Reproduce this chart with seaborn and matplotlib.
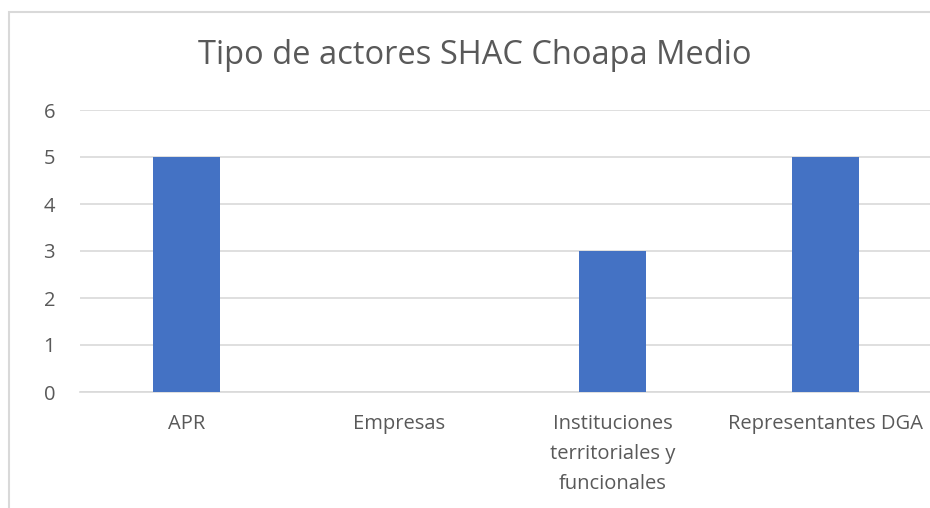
import pandas as pd
import matplotlib.pyplot as plt
import seaborn as sns
from matplotlib.patches import Rectangle

# Chart data
categorias = ['APR', 'Empresas', 'Instituciones\nterritoriales y\nfuncionales', 'Representantes DGA']
valores = [5, 0, 3, 5]
y_ticks = [0, 1, 2, 3, 4, 5, 6]
titulo = 'Tipo de actores SHAC Choapa Medio'

df = pd.DataFrame({'categoria': categorias, 'valor': valores})

sns.set_style('white')
plt.rcParams['font.family'] = ['Open Sans', 'DejaVu Sans']

fig = plt.figure(figsize=(9.3, 5.08), dpi=100)
ax = fig.add_axes([80 / 930, 1 - 392 / 508, 852 / 930, 282 / 508])

sns.barplot(data=df, x='categoria', y='valor', color='#4472c4', width=0.315,
            saturation=1, linewidth=0, ax=ax, zorder=3)

ax.set_ylim(0, 6)
ax.set_yticks(y_ticks)
ax.yaxis.grid(True, color='#d9d9d9', linewidth=1.2, zorder=0)
ax.set_axisbelow(True)
for s in ['top', 'right', 'left']:
    ax.spines[s].set_visible(False)
ax.spines['bottom'].set_color('#d9d9d9')
ax.spines['bottom'].set_linewidth(1.2)
ax.set_xlabel('')
ax.set_ylabel('')
ax.tick_params(axis='both', length=0, labelsize=14.5, colors='#595959')
ax.tick_params(axis='y', pad=18)
ax.tick_params(axis='x', pad=16)
for lbl in ax.get_xticklabels():
    lbl.set_linespacing(1.65)

fig.text(475 / 930, 1 - 55 / 508, titulo, ha='center', va='center',
         fontsize=23.5, color='#595959')

# chart frame (cropped at right and bottom)
fig.patches.append(Rectangle((9 / 930, -0.1), 1.2, 1 - 12 / 508 + 0.1,
                             transform=fig.transFigure, fill=False,
                             edgecolor='#d9d9d9', linewidth=1.5))

fig.savefig('out.png', dpi=100)
